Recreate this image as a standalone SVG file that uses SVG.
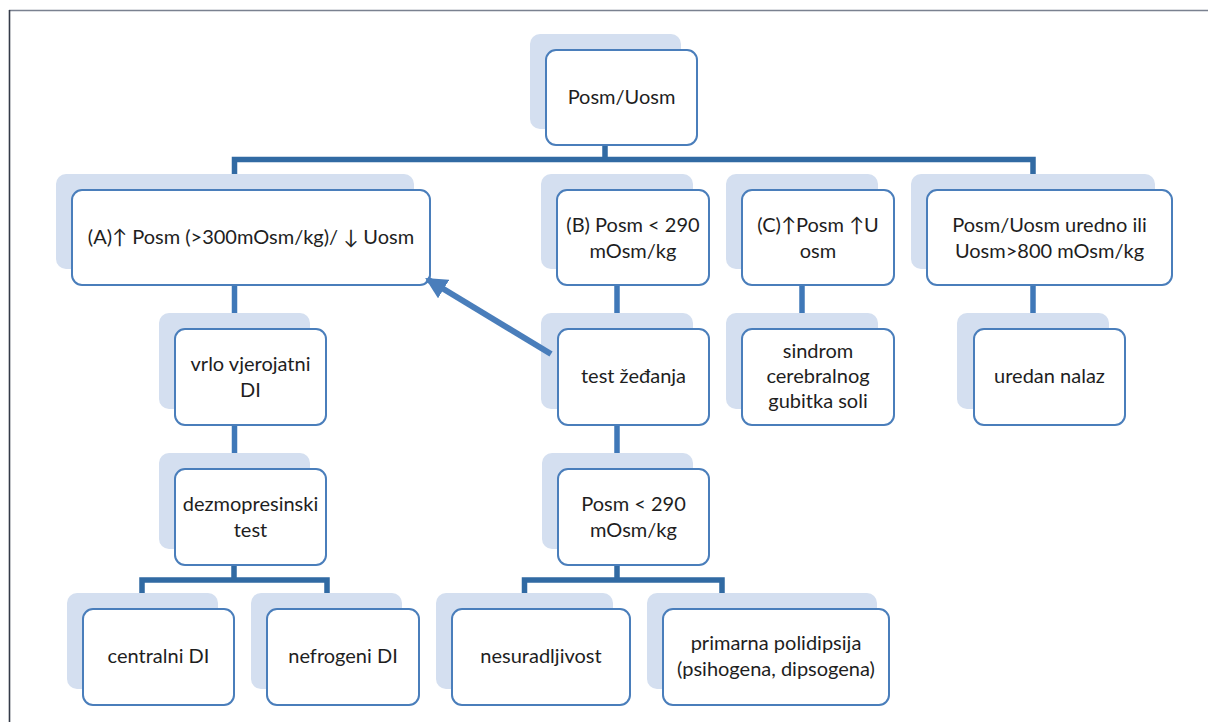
<svg xmlns="http://www.w3.org/2000/svg" width="1208" height="722" viewBox="0 0 1208 722">
<defs>
<style>
.sh{fill:#d4dff0;stroke:none}
.bx{fill:#ffffff;stroke:#4a7ebb;stroke-width:2}
.t{font-family:Lato,"Liberation Sans",sans-serif;font-size:20px;fill:#1e1e1e;text-anchor:middle}
.bus{fill:none;stroke:#316aa3;stroke-width:5.5;stroke-linejoin:miter}
.cn{fill:none;stroke:#3f78b8;stroke-width:5.5}
.ar{fill:none;stroke:#4a7ebb;stroke-width:6}
</style>
<marker id="ah" viewBox="0 0 10 10" refX="9" refY="5" markerWidth="3.6" markerHeight="3.6" orient="auto" markerUnits="strokeWidth">
<path d="M0,0 L10,5 L0,10 z" fill="#4a7ebb"/>
</marker>
</defs>
<rect width="1208" height="722" fill="#ffffff"/>
<line x1="9" y1="10.5" x2="1208" y2="10.5" stroke="#7a8190" stroke-width="1.6"/>
<line x1="9.5" y1="10" x2="9.5" y2="722" stroke="#343b48" stroke-width="1.6"/>

<g id="n-root">
<rect class="sh" x="530" y="34" width="151" height="95" rx="10"/>
<rect class="bx" x="546" y="50" width="151" height="95" rx="10"/>
<text class="t" x="621.5" y="104">Posm/Uosm</text>
</g>

<g id="n-a">
<rect class="sh" x="56" y="174" width="358" height="95" rx="10"/>
<rect class="bx" x="72" y="190" width="358" height="95" rx="10"/>
<text class="t" x="251" y="244">(A)↑ Posm (&gt;300mOsm/kg)/ ↓ Uosm</text>
</g>

<g id="n-b">
<rect class="sh" x="541" y="174" width="152" height="95" rx="10"/>
<rect class="bx" x="557" y="190" width="152" height="95" rx="10"/>
<text class="t" x="633" y="232">(B) Posm &lt; 290</text>
<text class="t" x="633" y="258">mOsm/kg</text>
</g>

<g id="n-c">
<rect class="sh" x="726" y="174" width="152" height="95" rx="10"/>
<rect class="bx" x="742" y="190" width="152" height="95" rx="10"/>
<text class="t" x="818" y="232">(C)↑Posm ↑U</text>
<text class="t" x="818" y="258">osm</text>
</g>

<g id="n-d">
<rect class="sh" x="911" y="174" width="244" height="95" rx="10"/>
<rect class="bx" x="927" y="190" width="245" height="95" rx="10"/>
<text class="t" x="1049.5" y="232">Posm/Uosm uredno ili</text>
<text class="t" x="1049.5" y="258">Uosm&gt;800 mOsm/kg</text>
</g>

<g id="n-vrlo">
<rect class="sh" x="159" y="313" width="151" height="96" rx="10"/>
<rect class="bx" x="175" y="329" width="151" height="96" rx="10"/>
<text class="t" x="250.5" y="371">vrlo vjerojatni</text>
<text class="t" x="250.5" y="397">DI</text>
</g>

<g id="n-test">
<rect class="sh" x="541" y="313" width="152" height="96" rx="10"/>
<rect class="bx" x="558" y="329" width="151" height="96" rx="10"/>
<text class="t" x="633.5" y="383">test žeđanja</text>
</g>

<g id="n-sindrom">
<rect class="sh" x="726" y="313" width="152" height="96" rx="10"/>
<rect class="bx" x="742" y="329" width="152" height="96" rx="10"/>
<text class="t" x="818" y="358">sindrom</text>
<text class="t" x="818" y="383">cerebralnog</text>
<text class="t" x="818" y="408">gubitka soli</text>
</g>

<g id="n-uredan">
<rect class="sh" x="957" y="313" width="152" height="96" rx="10"/>
<rect class="bx" x="974" y="329" width="151" height="96" rx="10"/>
<text class="t" x="1049.5" y="383">uredan nalaz</text>
</g>

<g id="n-dezmo">
<rect class="sh" x="159" y="453" width="151" height="96" rx="10"/>
<rect class="bx" x="175" y="469" width="151" height="96" rx="10"/>
<text class="t" x="250.5" y="511">dezmopresinski</text>
<text class="t" x="250.5" y="537">test</text>
</g>

<g id="n-posm2">
<rect class="sh" x="542" y="453" width="151" height="96" rx="10"/>
<rect class="bx" x="558" y="469" width="151" height="96" rx="10"/>
<text class="t" x="633.5" y="511">Posm &lt; 290</text>
<text class="t" x="633.5" y="537">mOsm/kg</text>
</g>

<g id="n-centralni">
<rect class="sh" x="67" y="593" width="151" height="96" rx="10"/>
<rect class="bx" x="83" y="609" width="151" height="96" rx="10"/>
<text class="t" x="158.5" y="663">centralni DI</text>
</g>

<g id="n-nefrogeni">
<rect class="sh" x="251" y="593" width="151" height="96" rx="10"/>
<rect class="bx" x="267" y="609" width="152" height="96" rx="10"/>
<text class="t" x="343" y="663">nefrogeni DI</text>
</g>

<g id="n-nesuradljivost">
<rect class="sh" x="436" y="593" width="177" height="96" rx="10"/>
<rect class="bx" x="452" y="609" width="178" height="96" rx="10"/>
<text class="t" x="541" y="663">nesuradljivost</text>
</g>

<g id="n-primarna">
<rect class="sh" x="647" y="593" width="230" height="96" rx="10"/>
<rect class="bx" x="663" y="609" width="226" height="96" rx="10"/>
<text class="t" x="776" y="650">primarna polidipsija</text>
<text class="t" x="776" y="676">(psihogena, dipsogena)</text>
</g>

<g id="connectors">
<path class="bus" d="M234.5,174 V159.5 H1033 V174"/>
<path class="bus" d="M605,146 V159.5"/>
<path class="cn" d="M234.5,286 V313"/>
<path class="cn" d="M617,286 V313"/>
<path class="cn" d="M802,286 V313"/>
<path class="cn" d="M1033,286 V313"/>
<path class="cn" d="M234.5,426 V453"/>
<path class="cn" d="M617,426 V453"/>
<path class="bus" d="M142,593 V580 H327 V593"/>
<path class="bus" d="M234,566 V580"/>
<path class="bus" d="M524.5,593 V580 H722 V593"/>
<path class="bus" d="M617,566 V580"/>
<line class="ar" x1="551" y1="354" x2="427" y2="279" marker-end="url(#ah)"/>
</g>
</svg>
